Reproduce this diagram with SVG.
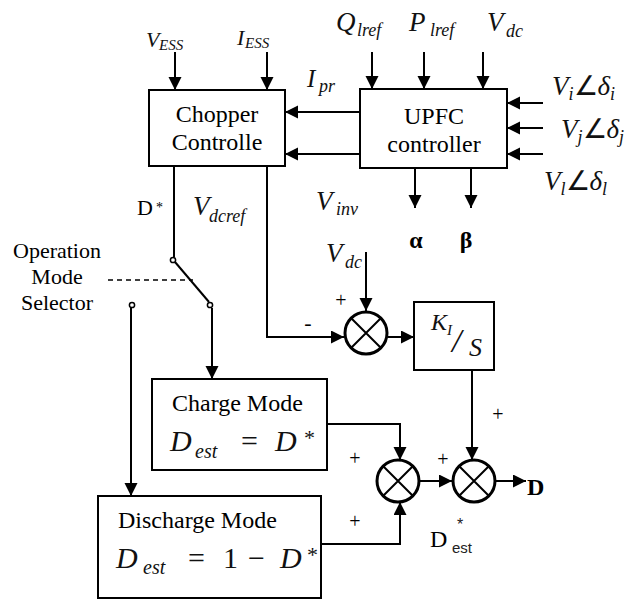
<svg xmlns="http://www.w3.org/2000/svg" width="636" height="599" viewBox="0 0 636 599">
<defs>
<marker id="ah" markerUnits="userSpaceOnUse" markerWidth="14" markerHeight="14" refX="13" refY="6.5" orient="auto">
<path d="M0,0 L13,6.5 L0,13 z" fill="#000"/>
</marker>
<style>
.box{fill:#fff;stroke:#000;stroke-width:2}
.ln{fill:none;stroke:#000;stroke-width:2}
.ar{fill:none;stroke:#000;stroke-width:2;marker-end:url(#ah)}
.sum{fill:#fff;stroke:#000;stroke-width:3}
.t{font-family:"Liberation Serif","Times New Roman",serif;fill:#000}
.m{font-family:"Liberation Serif","Times New Roman",serif;font-style:italic;fill:#111}
.u{font-family:"Liberation Serif","Times New Roman",serif;font-style:normal;fill:#111}
.c{fill:#fff;stroke:#000;stroke-width:1.5}
</style>
</defs>
<rect width="636" height="599" fill="#fff"/>

<g id="connectors">
<line class="ar" x1="175" y1="52" x2="175" y2="90"/>
<line class="ar" x1="267" y1="52" x2="267" y2="90"/>
<line class="ar" x1="360" y1="112" x2="285" y2="112"/>
<line class="ar" x1="360" y1="154" x2="285" y2="154"/>
<line class="ar" x1="372" y1="52" x2="372" y2="89"/>
<line class="ar" x1="424" y1="52" x2="424" y2="89"/>
<line class="ar" x1="483" y1="52" x2="483" y2="89"/>
<line class="ar" x1="543" y1="103" x2="507" y2="103"/>
<line class="ar" x1="543" y1="128" x2="507" y2="128"/>
<line class="ar" x1="543" y1="154" x2="507" y2="154"/>
<line class="ar" x1="415" y1="168" x2="415" y2="208"/>
<line class="ar" x1="471" y1="168" x2="471" y2="208"/>
<line class="ln" x1="174" y1="166" x2="174" y2="257"/>
<line class="ln" x1="175" y1="262" x2="209" y2="302"/>
<line x1="108" y1="280" x2="193" y2="280" stroke="#000" stroke-width="1.5" stroke-dasharray="5,4"/>
<line class="ar" x1="212" y1="308" x2="212" y2="379"/>
<line class="ar" x1="131" y1="308" x2="131" y2="496"/>
<polyline class="ar" points="267,166 267,337 344,337"/>
<line class="ar" x1="366" y1="252" x2="366" y2="311"/>
<line class="ar" x1="388" y1="337" x2="414" y2="337"/>
<line class="ar" x1="472" y1="370" x2="472" y2="460"/>
<polyline class="ar" points="327,424 400,424 400,460"/>
<polyline class="ar" points="321,544 400,544 400,502"/>
<line class="ar" x1="420" y1="481" x2="452" y2="481"/>
<line class="ar" x1="496" y1="481" x2="526" y2="481"/>
</g>

<g id="chopper">
<rect class="box" x="149" y="90" width="136" height="76"/>
<text class="t" x="217" y="122" font-size="24" text-anchor="middle">Chopper</text>
<text class="t" x="217" y="150" font-size="24" text-anchor="middle">Controlle</text>
</g>

<g id="upfc">
<rect class="box" x="360" y="89" width="147" height="79"/>
<text class="t" x="434" y="124" font-size="24" text-anchor="middle">UPFC</text>
<text class="t" x="434" y="152" font-size="24" text-anchor="middle">controller</text>
</g>

<g id="switch">
<circle class="c" cx="173" cy="260" r="2.6"/>
<circle class="c" cx="210" cy="305" r="2.6"/>
<circle class="c" cx="132" cy="305" r="2.6"/>
<text class="t" x="57" y="258" font-size="22" text-anchor="middle">Operation</text>
<text class="t" x="57" y="284" font-size="22" text-anchor="middle">Mode</text>
<text class="t" x="57" y="310" font-size="22" text-anchor="middle">Selector</text>
</g>

<g id="sum1">
<circle class="sum" cx="366" cy="333" r="21"/>
<path class="ln" d="M351,318 L381,348 M381,318 L351,348" stroke-width="2.5"/>
</g>

<g id="ki">
<rect class="box" x="414" y="302" width="80" height="68"/>
<text class="m" x="431" y="330" font-size="24">K</text>
<text class="m" x="447" y="335" font-size="15">I</text>
<text class="m" x="452" y="352" font-size="34">/</text>
<text class="m" x="469" y="356" font-size="26">S</text>
</g>

<g id="charge">
<rect class="box" x="152" y="379" width="175" height="91"/>
<text class="t" x="172" y="411" font-size="24">Charge Mode</text>
<text class="m" x="170" y="451" font-size="30">D</text>
<text class="m" x="195" y="458" font-size="20">est</text>
<text class="u" x="241" y="451" font-size="30">=</text>
<text class="m" x="275" y="451" font-size="30">D</text>
<text class="u" x="304" y="445" font-size="22">*</text>
</g>

<g id="discharge">
<rect class="box" x="98" y="496" width="223" height="102"/>
<text class="t" x="118" y="528" font-size="24">Discharge Mode</text>
<text class="m" x="116" y="568" font-size="30">D</text>
<text class="m" x="143" y="574" font-size="20">est</text>
<text class="u" x="188" y="568" font-size="30">=</text>
<text class="u" x="223" y="568" font-size="30">1</text>
<text class="u" x="248" y="568" font-size="30">−</text>
<text class="m" x="280" y="568" font-size="30">D</text>
<text class="u" x="307" y="562" font-size="22">*</text>
</g>

<g id="sum2">
<circle class="sum" cx="398" cy="481" r="21"/>
<path class="ln" d="M383,466 L413,496 M413,466 L383,496" stroke-width="2.5"/>
</g>

<g id="sum3">
<circle class="sum" cx="474" cy="481" r="21"/>
<path class="ln" d="M459,466 L489,496 M489,466 L459,496" stroke-width="2.5"/>
</g>

<g id="labels">
<text class="m" x="146" y="47" font-size="22">V</text>
<text class="m" x="159" y="50" font-size="15">ESS</text>
<text class="m" x="237" y="45" font-size="22">I</text>
<text class="m" x="245" y="48" font-size="15">ESS</text>

<text class="m" x="336" y="31" font-size="27">Q</text>
<text class="m" x="357" y="36" font-size="18">lref</text>
<text class="m" x="409" y="31" font-size="27">P</text>
<text class="m" x="430" y="36" font-size="18">lref</text>
<text class="m" x="487" y="31" font-size="27">V</text>
<text class="m" x="506" y="37" font-size="18">dc</text>

<text class="m" x="307" y="87" font-size="25">I</text>
<text class="m" x="319" y="92" font-size="18">pr</text>
<text class="m" x="316" y="210" font-size="27">V</text>
<text class="m" x="336" y="215" font-size="18">inv</text>

<text class="m" x="552" y="95" font-size="27">V<tspan font-size="18" dy="5">i</tspan><tspan font-size="27" dy="-5" style="font-style:normal">∠</tspan>δ<tspan font-size="18" dy="5">i</tspan></text>
<text class="m" x="561" y="138" font-size="27">V<tspan font-size="18" dy="5">j</tspan><tspan font-size="27" dy="-5" style="font-style:normal">∠</tspan>δ<tspan font-size="18" dy="5">j</tspan></text>
<text class="m" x="544" y="190" font-size="27">V<tspan font-size="18" dy="5">l</tspan><tspan font-size="27" dy="-5" style="font-style:normal">∠</tspan>δ<tspan font-size="18" dy="5">l</tspan></text>

<text class="t" x="416" y="248" font-size="24" font-weight="bold" text-anchor="middle">α</text>
<text class="t" x="466" y="248" font-size="24" font-weight="bold" text-anchor="middle">β</text>

<text class="t" x="137" y="215" font-size="22">D</text>
<text class="t" x="156" y="212" font-size="14">*</text>
<text class="m" x="193" y="215" font-size="27">V</text>
<text class="m" x="209" y="222" font-size="18">dcref</text>

<text class="m" x="326" y="262" font-size="27">V</text>
<text class="m" x="345" y="268" font-size="18">dc</text>
<text class="t" x="341" y="307" font-size="20" text-anchor="middle">+</text>
<text class="t" x="308" y="330" font-size="22" text-anchor="middle">-</text>

<text class="t" x="498" y="421" font-size="20" text-anchor="middle">+</text>
<text class="t" x="443" y="466" font-size="20" text-anchor="middle">+</text>
<text class="t" x="355" y="465" font-size="20" text-anchor="middle">+</text>
<text class="t" x="355" y="528" font-size="20" text-anchor="middle">+</text>

<text class="t" x="527" y="495" font-size="24" font-weight="bold">D</text>
<text class="t" x="430" y="547" font-size="24" fill="#222">D</text>
<text font-family="'Liberation Sans',Arial,sans-serif" x="452" y="553" font-size="15" fill="#222">est</text>
<text font-family="'Liberation Sans',Arial,sans-serif" x="457" y="530" font-size="16" fill="#222">*</text>
</g>
</svg>
